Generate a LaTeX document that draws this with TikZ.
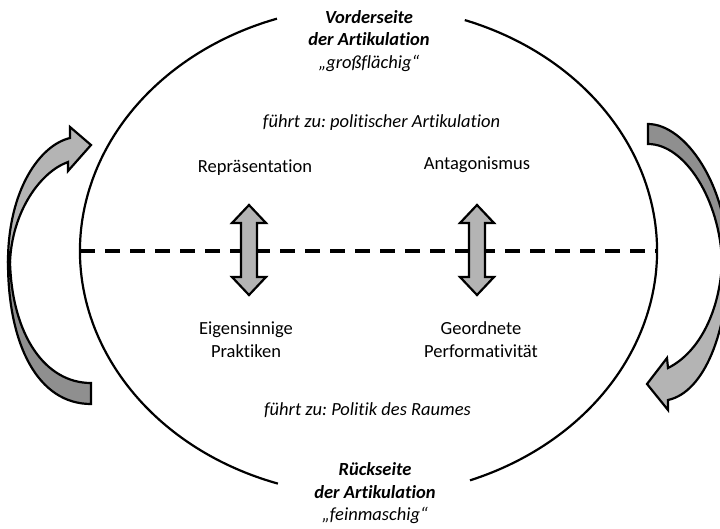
\documentclass[tikz,border=0pt]{standalone}
\usepackage{fontspec}
\setmainfont{Carlito}[Ligatures={NoCommon}]
\definecolor{lightband}{HTML}{B4B4B4}
\definecolor{darkband}{HTML}{8F8F8F}
\frenchspacing
\begin{document}
\begin{tikzpicture}[x=1pt,y=-1pt,
  txt/.style={font=\fontsize{18.5}{22.5}\selectfont, align=center, inner sep=0pt},
  ell/.style={line width=2.2pt},
  band/.style={draw=black, line width=2.2pt, line join=miter},
  dbl/.style={draw=black, fill=lightband, line width=2.2pt, line join=miter}]
\useasboundingbox (0,0) rectangle (720,528);
\clip (0,0) rectangle (720,528);
\coordinate (c) at (368.5,251);
% ellipse arcs
\draw[ell] (c) ++(-70.5:288.5 and 245) arc[start angle=-70.5, end angle=69.4, x radius=288.5, y radius=245];
\draw[ell] (c) ++(108.3:288.5 and 245) arc[start angle=108.3, end angle=251.5, x radius=288.5, y radius=245];
% dashed line
\coordinate (dl) at (80,251);
\coordinate (dr) at (657,251);
\draw[line width=3.5pt, dash pattern=on 15pt off 10pt] (dl) -- (dr);
% texts
\node[txt] (front) at (369,41) {\textbf{\textit{Vorderseite}}\\\textbf{\textit{der Artikulation}}\\\textit{„großflächig“}};
\node[txt] (pol) at (381.5,123) {\textit{führt zu: politischer Artikulation}};
\node[txt] (rep) at (255,168) {Repräsentation};
\node[txt] (ant) at (477,165) {Antagonismus};
\node[txt] (eig) at (246,339.5) {Eigensinnige\\Praktiken};
\node[txt] (geo) at (481,339.5) {Geordnete\\Performativität};
\node[txt] (raum) at (367.5,410) {\textit{führt zu: Politik des Raumes}};
\node[txt] (back) at (375,493.5) {\textbf{\textit{Rückseite}}\\\textbf{\textit{der Artikulation}}\\\textit{„feinmaschig“}};
% double arrows
\draw[dbl] (249,205) -- (266,223) -- (257,223) -- (257,277) -- (266,277) -- (249,295) -- (232,277) -- (241,277) -- (241,223) -- (232,223) -- cycle;
\draw[dbl] (477,205) -- (494,223) -- (485,223) -- (485,277) -- (494,277) -- (477,295) -- (460,277) -- (469,277) -- (469,223) -- (460,223) -- cycle;
% left curved arrow
\draw[band, fill=darkband] (8,262) .. controls (8,345) and (38,404) .. (91,404) -- (91,383) .. controls (45,383) and (12,335) .. (10,262) -- cycle;
\draw[band, fill=lightband] (8,262) .. controls (8,190) and (40,145) .. (70,138) -- (70,127) -- (91,145) -- (68,171) -- (68,162) .. controls (40,172) and (12,212) .. (10,262) -- cycle;
% right curved arrow
\draw[band, fill=darkband] (648,124) .. controls (685,124) and (728,185) .. (728,262) -- (722,262) .. controls (720,200) and (685,144) .. (648,144) -- cycle;
\draw[band, fill=lightband] (728,262) .. controls (728,330) and (705,392) .. (668,400) -- (668,410) -- (647,384) -- (667,358) -- (668,368) .. controls (700,352) and (720,310) .. (722,262) -- cycle;
\end{tikzpicture}
\end{document}
